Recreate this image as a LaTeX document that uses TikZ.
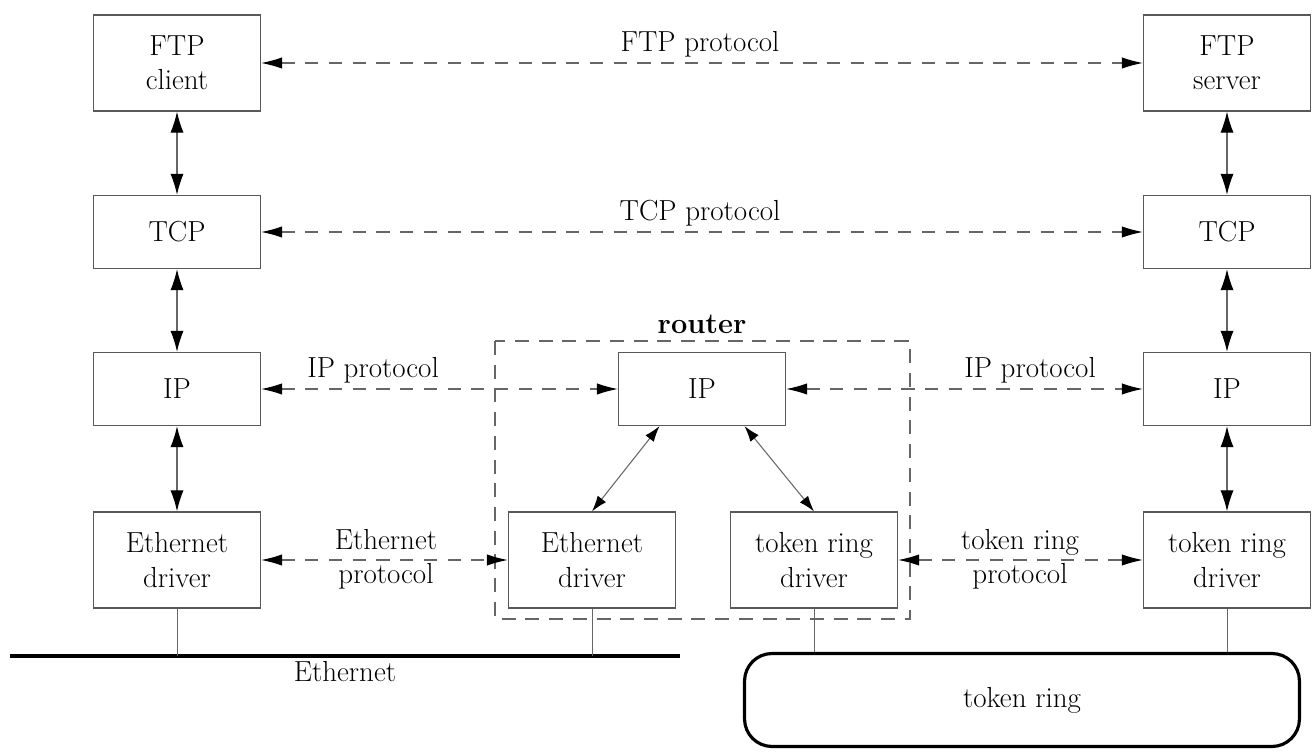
\documentclass[tikz,border=0pt]{standalone}
\usetikzlibrary{arrows.meta}
\begin{document}
\begin{tikzpicture}[x=0.02cm,y=-0.02cm,
  txt/.style={font=\fontsize{16.5}{19.5}\selectfont, align=center, inner sep=1pt},
  layer/.style={txt, draw=black!65, line width=0.7pt, minimum width=3.34cm},
  tall/.style={layer, minimum height=1.92cm},
  short/.style={layer, minimum height=1.46cm},
  biarr/.style={draw=black!60, line width=0.7pt,
     {Latex[length=12pt,width=7.5pt,color=black]}-{Latex[length=12pt,width=7.5pt,color=black]}},
  smallarr/.style={draw=black!60, line width=0.6pt,
     {Latex[length=9pt,width=6pt,color=black]}-{Latex[length=9pt,width=6pt,color=black]}},
  protoarr/.style={draw=black!60, line width=0.7pt, dash pattern=on 7.5pt off 6pt,
     {Latex[length=12pt,width=6.5pt,color=black]}-{Latex[length=12pt,width=6.5pt,color=black]}},
  wire/.style={draw=black!60, line width=0.5pt},
  routerbox/.style={draw=black!60, line width=0.8pt, dash pattern=on 8pt off 5.5pt}
]
\useasboundingbox (0,0) rectangle (1316,753);

% left host
\node[tall]  (ftpc) at (177,63)  {FTP\\client};
\node[short] (tcpl) at (177,232) {TCP};
\node[short] (ipl)  at (177,389) {IP};
\node[tall]  (ethl) at (177,560) {Ethernet\\driver};

% right host
\node[tall]  (ftps) at (1227,63)  {FTP\\server};
\node[short] (tcpr) at (1227,232) {TCP};
\node[short] (ipr)  at (1227,389) {IP};
\node[tall]  (trr)  at (1227,560) {token ring\\driver};

% router
\node[short] (ipm)  at (702,389) {IP};
\node[tall]  (ethm) at (592,560) {Ethernet\\driver};
\node[tall]  (trm)  at (814,560) {token ring\\driver};
\draw[routerbox] (495,341) rectangle (910,619);
\node[txt, font=\fontsize{16.5}{19.5}\selectfont\bfseries] (routerlbl) at (702,324) {router};

% vertical stack arrows
\draw[biarr] (ftpc) -- (tcpl);
\draw[biarr] (tcpl) -- (ipl);
\draw[biarr] (ipl) -- (ethl);
\draw[biarr] (ftps) -- (tcpr);
\draw[biarr] (tcpr) -- (ipr);
\draw[biarr] (ipr) -- (trr);
\draw[smallarr] ([xshift=-0.85cm]ipm.south) -- (ethm.north);
\draw[smallarr] ([xshift=0.85cm]ipm.south) -- (trm.north);

% protocol arrows
\draw[protoarr] (ftpc) -- (ftps);
\node[txt] (ftpp) at (700,44) {FTP protocol};
\draw[protoarr] (tcpl) -- (tcpr);
\node[txt] (tcpp) at (700,213) {TCP protocol};
\draw[protoarr] (ipl) -- (ipm);
\node[txt] (ippl) at (373,370) {IP protocol};
\draw[protoarr] (ipm) -- (ipr);
\node[txt] (ippr) at (1030,370) {IP protocol};
\draw[protoarr] (ethl) -- (ethm);
\node[txt] (ethp) at (386,559) {Ethernet\\protocol};
\draw[protoarr] (trm) -- (trr);
\node[txt] (trp) at (1020,559) {token ring\\protocol};

% Ethernet cable
\coordinate (ethA) at (10,656);
\coordinate (ethB) at (680,656);
\draw[line width=2.4pt] (ethA) -- (ethB);
\node[txt] (ethlbl) at (345,672) {Ethernet};
\draw[wire] (ethl.south) -- (ethl.south |- ethA);
\draw[wire] (ethm.south) -- (ethm.south |- ethA);

% token ring
\node[txt, draw, line width=1.8pt, rounded corners=0.55cm,
      minimum width=11.1cm, minimum height=1.86cm] (ring) at (1022,700) {token ring};
\draw[wire] (trm.south) -- (trm.south |- ring.north);
\draw[wire] (trr.south) -- (trr.south |- ring.north);
\end{tikzpicture}
\end{document}
